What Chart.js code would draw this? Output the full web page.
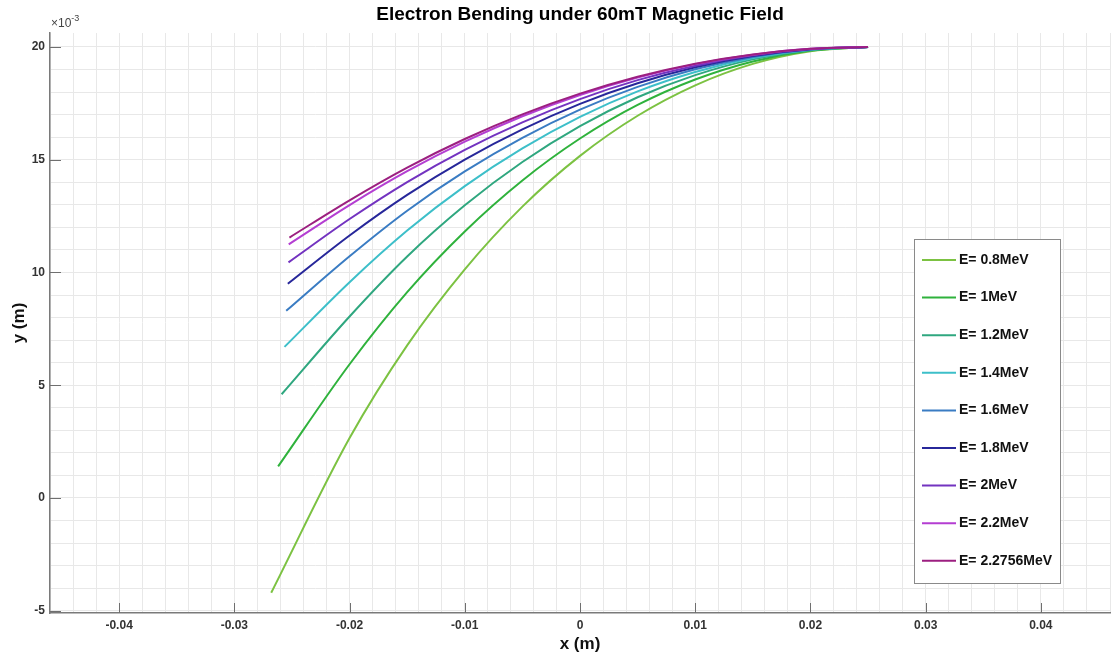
<!DOCTYPE html>
<html>
<head>
<meta charset="utf-8">
<title>Electron Bending under 60mT Magnetic Field</title>
<script src="https://cdn.jsdelivr.net/npm/chart.js@4.4.0/dist/chart.umd.min.js"></script>
<style>
  body { margin: 0; background: #fff; }
  canvas { display: block; }
</style>
</head>
<body>
<canvas id="chart" width="1116" height="655"></canvas>
<script>
// energies of the electrons (legend)
const energies = ['0.8', '1', '1.2', '1.4', '1.6', '1.8', '2', '2.2', '2.2756'];
const colors = ['#7cc242', '#2fb23c', '#2fa77f', '#3dbfc9', '#3a7cc3', '#27279a', '#7333c0', '#b43ed2', '#9c1f80'];

// x where each track starts (m), then the shared x positions
const xStart = [-0.0268, -0.0262, -0.0259, -0.02565, -0.0255, -0.02536, -0.0253, -0.02528, -0.02522];
const xPoints = [-0.02, -0.015, -0.01, -0.005, 0, 0.005, 0.01, 0.015, 0.02, 0.025];

// y values in units of 1e-3 m (first value = start point)
const y08 = [-4.2, 2.66, 6.77, 10.14, 12.92, 15.17, 16.95, 18.30, 19.25, 19.81, 20];
const y10 = [1.4, 5.93, 9.13, 11.82, 14.08, 15.94, 17.43, 18.56, 19.36, 19.84, 20];
const y12 = [4.6, 8.05, 10.71, 12.98, 14.90, 16.49, 17.77, 18.75, 19.45, 19.86, 20];
const y14 = [6.7, 9.57, 11.86, 13.83, 15.50, 16.90, 18.03, 18.89, 19.51, 19.88, 20];
const y16 = [8.3, 10.72, 12.74, 14.48, 15.97, 17.22, 18.23, 19.01, 19.56, 19.89, 20];
const y18 = [9.5, 11.64, 13.44, 15.01, 16.35, 17.48, 18.39, 19.10, 19.60, 19.90, 20];
const y20 = [10.45, 12.37, 14.01, 15.44, 16.66, 17.69, 18.53, 19.17, 19.63, 19.91, 20];
const y22 = [11.25, 12.99, 14.49, 15.80, 16.93, 17.87, 18.64, 19.24, 19.66, 19.92, 20];
const y23 = [11.55, 13.20, 14.65, 15.92, 17.01, 17.93, 18.68, 19.26, 19.67, 19.92, 20];
const ySeries = [y08, y10, y12, y14, y16, y18, y20, y22, y23];

// tick labels
const xMajor = [-0.04, -0.03, -0.02, -0.01, 0, 0.01, 0.02, 0.03, 0.04];
const yMajor = [-5, 0, 5, 10, 15, 20];

const FONT = '"Liberation Sans", Arial, Helvetica, sans-serif';

function isMultiple(v, step) {
    return Math.abs(v / step - Math.round(v / step)) < 1e-6;
}

// minor grid positions (5 per major step)
function gridValues(from, to, step) {
    const out = [];
    for (let k = Math.round(from / step); k * step <= to + 1e-9; k++) {
        out.push({ value: +(k * step).toFixed(6) });
    }
    return out;
}

const datasets = ySeries.map((ys, i) => ({
    label: 'E= ' + energies[i] + 'MeV',
    data: ys.map((v, j) => ({ x: j === 0 ? xStart[i] : xPoints[j - 1], y: v })),
    borderColor: colors[i],
    backgroundColor: colors[i],
    borderWidth: 2,
    pointRadius: 0,
    cubicInterpolationMode: 'monotone',
    order: -i
}));

// title, tick marks inside the axes, the x10^-3 factor and the boxed legend
const overlay = {
    id: 'overlay',
    afterDraw(chart) {
        const { ctx, chartArea: a, scales } = chart;
        ctx.save();

        // title centred over the plot area
        ctx.fillStyle = '#000';
        ctx.font = 'bold 19px ' + FONT;
        ctx.textAlign = 'center';
        ctx.textBaseline = 'middle';
        ctx.fillText('Electron Bending under 60mT Magnetic Field', (a.left + a.right) / 2, 15);

        ctx.strokeStyle = '#6f6f6f';
        ctx.lineWidth = 1;
        xMajor.forEach(v => {
            const px = Math.round(scales.x.getPixelForValue(v)) + 0.5;
            ctx.beginPath();
            ctx.moveTo(px, a.bottom);
            ctx.lineTo(px, a.bottom - 10);
            ctx.stroke();
        });
        yMajor.forEach(v => {
            const py = Math.round(scales.y.getPixelForValue(v)) + 0.5;
            ctx.beginPath();
            ctx.moveTo(a.left, py);
            ctx.lineTo(a.left + 11, py);
            ctx.stroke();
        });

        // exponent
        ctx.fillStyle = '#444';
        ctx.textBaseline = 'alphabetic';
        ctx.textAlign = 'left';
        ctx.font = '12px ' + FONT;
        ctx.fillText('\u00d710', a.left + 1, a.top - 6);
        const w = ctx.measureText('\u00d710').width;
        ctx.font = '9px ' + FONT;
        ctx.fillText('-3', a.left + 1 + w, a.top - 12);

        // legend
        const bx = a.right - 196, by = a.top + 206, bw = 146, bh = 344;
        ctx.fillStyle = '#fff';
        ctx.fillRect(bx, by, bw, bh);
        ctx.strokeStyle = '#8a8a8a';
        ctx.lineWidth = 1;
        ctx.strokeRect(bx + 0.5, by + 0.5, bw, bh);
        ctx.font = 'bold 14px ' + FONT;
        ctx.textBaseline = 'middle';
        chart.data.datasets.forEach((ds, i) => {
            const ry = by + 21 + i * 37.6;
            ctx.strokeStyle = ds.borderColor;
            ctx.lineWidth = 2;
            ctx.beginPath();
            ctx.moveTo(bx + 8, ry);
            ctx.lineTo(bx + 42, ry);
            ctx.stroke();
            ctx.fillStyle = '#111';
            ctx.fillText(ds.label, bx + 45, ry);
        });
        ctx.restore();
    }
};

new Chart(document.getElementById('chart'), {
    type: 'line',
    data: { datasets: datasets },
    options: {
        responsive: false,
        animation: false,
        layout: { padding: { left: 0, right: 6, top: 33, bottom: 0 } },
        plugins: {
            legend: { display: false },
            tooltip: { enabled: false },
            title: { display: false }
        },
        scales: {
            x: {
                type: 'linear',
                min: -0.046,
                max: 0.046,
                afterFit(scale) { scale.height = 42; },
                afterBuildTicks(scale) { scale.ticks = gridValues(-0.046, 0.046, 0.002); },
                grid: { color: '#e8e8e8', drawTicks: false },
                border: { color: '#7a7a7a', width: 1.5 },
                ticks: {
                    autoSkip: false,
                    maxRotation: 0,
                    padding: 5,
                    color: '#333',
                    font: { family: FONT, size: 12, weight: 'bold' },
                    callback: v => isMultiple(v, 0.01) && Math.abs(v) < 0.045 ? (Math.abs(v) < 1e-9 ? '0' : v.toFixed(2)) : ''
                },
                title: {
                    display: true,
                    text: 'x (m)',
                    color: '#111',
                    font: { family: FONT, size: 17, weight: 'bold' },
                    padding: { top: 0, bottom: 0 }
                }
            },
            y: {
                type: 'linear',
                min: -5.1,
                max: 20.62,
                afterFit(scale) { scale.width = 50; },
                afterBuildTicks(scale) { scale.ticks = gridValues(-5, 20, 1); },
                grid: { color: '#e8e8e8', drawTicks: false },
                border: { color: '#7a7a7a', width: 1.5 },
                ticks: {
                    autoSkip: false,
                    padding: 5,
                    color: '#333',
                    font: { family: FONT, size: 12, weight: 'bold' },
                    callback: v => isMultiple(v, 5) ? String(Math.round(v)) : ''
                },
                title: {
                    display: true,
                    text: 'y (m)',
                    color: '#111',
                    font: { family: FONT, size: 17, weight: 'bold' },
                    padding: { top: 9, bottom: 0 }
                }
            }
        }
    },
    plugins: [overlay]
});
</script>
</body>
</html>
